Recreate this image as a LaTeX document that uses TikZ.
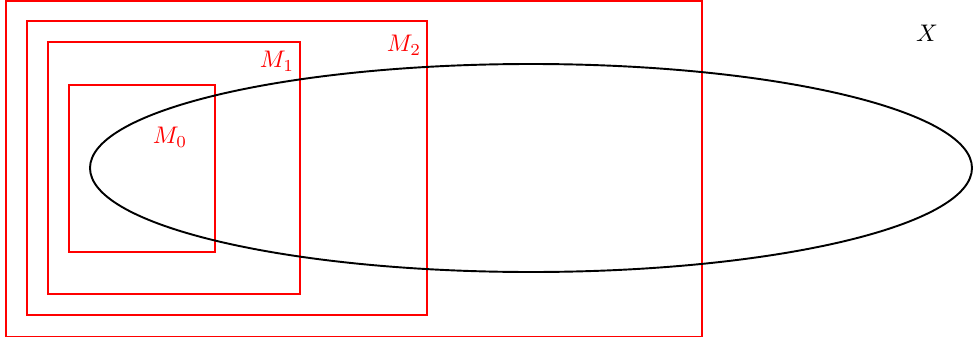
\documentclass[tikz,border=0pt]{standalone}
\begin{document}
\begin{tikzpicture}[x=0.4167pt,y=-0.4167pt,
  region/.style={draw=red,thick},
  space/.style={draw=black,thick},
  rlabel/.style={text=red,inner sep=0pt},
  xlabel/.style={inner sep=0pt}]
\useasboundingbox (0,0) rectangle (973,340);
\draw[region] (6,0.8) rectangle (702,336.5);
\draw[region] (27,21) rectangle (427,315);
\draw[region] (48,42) rectangle (300,294);
\draw[region] (69,85) rectangle (215,252);
\draw[space] (531,168) ellipse [x radius=441, y radius=104];
\node[rlabel] (m0) at (170,137) {$M_0$};
\node[rlabel] (m1) at (277,61) {$M_1$};
\node[rlabel] (m2) at (404,45) {$M_2$};
\node[xlabel] (x) at (927,33) {$X$};
\end{tikzpicture}
\end{document}
